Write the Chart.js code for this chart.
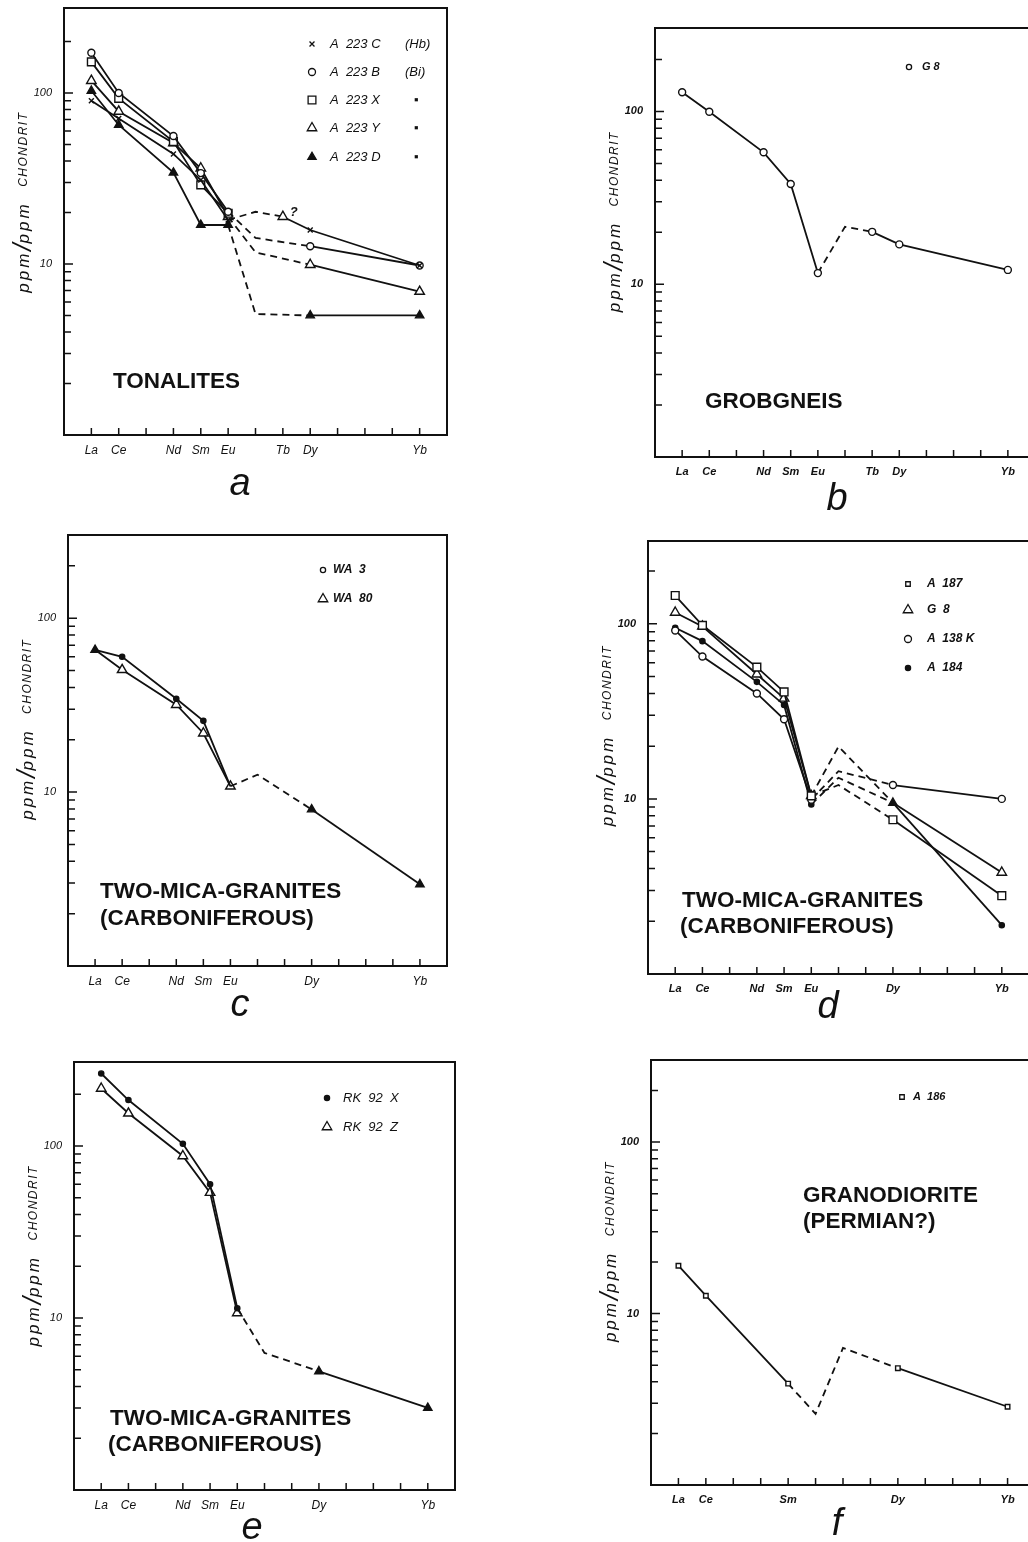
<!DOCTYPE html>
<html>
<head>
<meta charset="utf-8">
<script src="https://cdn.jsdelivr.net/npm/chart.js@4.4.1/dist/chart.umd.min.js"></script>
<style>
html, body { margin: 0; padding: 0; background: #fff; overflow: hidden; width: 1028px; height: 1542px; }
canvas { position: absolute; }
.tag { position: absolute; font: italic 38px "Liberation Sans", Arial, sans-serif; color: #111; transform: translate(-50%, -50%); }
</style>
</head>
<body>
<script>
const ink = '#111';
const fam = '"Liberation Sans", Arial, sans-serif';

// REE order along the x axis (Pm is left out, as in the original diagrams)
const reeOrder = ['La', 'Ce', 'Pr', 'Nd', 'Sm', 'Eu', 'Gd', 'Tb', 'Dy', 'Ho', 'Er', 'Tm', 'Yb'];
const yTicks = [2, 3, 4, 5, 6, 7, 8, 9, 10, 20, 30, 40, 50, 60, 70, 80, 90, 100, 200];
const yLabelled = [10, 100];

// a - tonalites
const aLabels = ['La', 'Ce', 'Nd', 'Sm', 'Eu', 'Tb', 'Dy', 'Yb'];
const aElements = ['La', 'Ce', 'Nd', 'Sm', 'Eu', 'Gd', 'Tb', 'Dy', 'Yb'];
const aA223C = [90, 71, 44, 31, 18.1, 20.2, 18.9, 15.8, 9.8];
const aA223B = [172, 100, 56, 34, 20.2, 14.2, null, 12.7, 9.8];
const aA223X = [152, 93, 52, 29, 19.8, null, null, null, null];
const aA223Y = [118, 78, 51, 36.3, 18.9, 11.7, null, 9.9, 6.9];
const aA223D = [103, 65, 34.2, 16.9, 16.9, 5.1, null, 5.0, 5.0];
const aNames = ['A  223 C', 'A  223 B', 'A  223 X', 'A  223 Y', 'A  223 D'];
const aNotes = ['(Hb)', '(Bi)', '▪', '▪', '▪'];

// b - grobgneis
const bLabels = ['La', 'Ce', 'Nd', 'Sm', 'Eu', 'Tb', 'Dy', 'Yb'];
const bElements = ['La', 'Ce', 'Nd', 'Sm', 'Eu', 'Gd', 'Tb', 'Dy', 'Yb'];
const bG8 = [129, 99.6, 58, 38, 11.6, 21.5, 20.1, 17, 12.1];
const bNames = ['G 8'];

// c - two-mica granites
const cLabels = ['La', 'Ce', 'Nd', 'Sm', 'Eu', 'Dy', 'Yb'];
const cElements = ['La', 'Ce', 'Nd', 'Sm', 'Eu', 'Gd', 'Dy', 'Yb'];
const cWA3 = [65.8, 60, 34.4, 25.7, 10.8, 12.6, 7.95, 2.95];
const cWA80 = [65.8, 50.5, 31.8, 21.8, 10.8, null, null, null];
const cNames = ['WA  3', 'WA  80'];

// d - two-mica granites
const dLabels = ['La', 'Ce', 'Nd', 'Sm', 'Eu', 'Dy', 'Yb'];
const dElements = ['La', 'Ce', 'Nd', 'Sm', 'Eu', 'Gd', 'Dy', 'Yb'];
const dA187 = [145, 98, 56.6, 40.8, 10.4, 12.0, 7.6, 2.8];
const dG8 = [116, 96.6, 51.5, 37.5, 10.4, 19.9, 9.5, 3.8];
const dA138K = [91.6, 65, 40, 28.5, 9.9, 14.4, 12.0, 10.0];
const dA184 = [95, 79.6, 46.6, 34.4, 9.3, 13.2, 9.5, 1.9];
const dNames = ['A  187', 'G  8', 'A  138 K', 'A  184'];

// e - two-mica granites
const eLabels = ['La', 'Ce', 'Nd', 'Sm', 'Eu', 'Dy', 'Yb'];
const eElements = ['La', 'Ce', 'Nd', 'Sm', 'Eu', 'Gd', 'Dy', 'Yb'];
const eRK92X = [264, 185, 103, 60, 11.4, 6.27, 4.9, 3.0];
const eRK92Z = [216, 155, 87.5, 53.6, 10.7, null, null, null];
const eNames = ['RK  92  X', 'RK  92  Z'];

// f - granodiorite
const fLabels = ['La', 'Ce', 'Sm', 'Dy', 'Yb'];
const fElements = ['La', 'Ce', 'Sm', 'Eu', 'Gd', 'Dy', 'Yb'];
const fA186 = [19.0, 12.7, 3.9, 2.6, 6.3, 4.8, 2.86];
const fNames = ['A  186'];

const marks = {
  cross: { style: 'crossRot', r: 3.5, fill: ink },
  circle: { style: 'circle', r: 3.5, fill: '#fff' },
  square: { style: 'rect', r: 5.5, fill: '#fff' },
  tri: { style: 'triangle', r: 5.5, fill: '#fff' },
  triFill: { style: 'triangle', r: 4.8, fill: ink },
  dot: { style: 'circle', r: 2.6, fill: ink },
  smallCircle: { style: 'circle', r: 2.6, fill: '#fff' },
  smallSquare: { style: 'rect', r: 3.2, fill: '#fff' },
  none: { style: 'circle', r: 0, fill: ink }
};

const panels = [
  {
    tag: 'a', tagPos: [240, 482], box: { l: 64, t: 8, r: 447, b: 435 }, yMax: 314,
    labels: aLabels, elements: aElements, est: ['Gd'], bold: false,
    series: [
      { values: aA223C, mark: 'cross', over: { Tb: 'tri' } },
      { values: aA223B, mark: 'circle' },
      { values: aA223X, mark: 'square' },
      { values: aA223Y, mark: 'tri' },
      { values: aA223D, mark: 'triFill' }
    ],
    legend: { names: aNames, notes: aNotes, dx: 248, textDx: 266, noteDx: 341, dy: [36, 64, 92, 120, 149], font: 'italic 13px' },
    title: { lines: ['TONALITES'], dx: [49], dy: [380] },
    notes: [{ series: 0, el: 'Tb', text: '?', dx: 7, dy: -4 }]
  },
  {
    tag: 'b', tagPos: [837, 497], box: { l: 655, t: 28, r: 1035, b: 457 }, yMax: 304,
    labels: bLabels, elements: bElements, est: ['Gd'], bold: true,
    series: [{ values: bG8, mark: 'circle' }],
    legend: { names: bNames, dx: 254, textDx: 267, dy: [39], font: 'italic bold 11px', markOver: ['smallCircle'] },
    title: { lines: ['GROBGNEIS'], dx: [50], dy: [380] }
  },
  {
    tag: 'c', tagPos: [240, 1003], box: { l: 68, t: 535, r: 447, b: 966 }, yMax: 301,
    labels: cLabels, elements: cElements, est: ['Gd'], bold: false,
    series: [
      { values: cWA3, mark: 'dot', over: { La: 'triFill', Eu: 'none', Dy: 'triFill', Yb: 'triFill' } },
      { values: cWA80, mark: 'tri', over: { La: 'none' } }
    ],
    legend: { names: cNames, dx: 255, textDx: 265, dy: [35, 64], font: 'italic bold 12px', markOver: ['smallCircle', 'tri'] },
    title: { lines: ['TWO-MICA-GRANITES', '(CARBONIFEROUS)'], dx: [32, 32], dy: [363, 390] }
  },
  {
    tag: 'd', tagPos: [828, 1005], box: { l: 648, t: 541, r: 1029, b: 974 }, yMax: 297,
    labels: dLabels, elements: dElements, est: ['Gd'], bold: true,
    series: [
      { values: dA187, mark: 'square' },
      { values: dG8, mark: 'tri', over: { Dy: 'triFill' } },
      { values: dA138K, mark: 'circle' },
      { values: dA184, mark: 'dot', over: { Dy: 'none' } }
    ],
    legend: { names: dNames, dx: 260, textDx: 279, dy: [43, 69, 98, 127], font: 'italic bold 12px', markOver: ['smallSquare', 'tri', 'circle', 'dot'] },
    title: { lines: ['TWO-MICA-GRANITES', '(CARBONIFEROUS)'], dx: [34, 32], dy: [366, 392] }
  },
  {
    tag: 'e', tagPos: [252, 1526], box: { l: 74, t: 1062, r: 455, b: 1490 }, yMax: 308,
    labels: eLabels, elements: eElements, est: ['Gd'], bold: false,
    series: [
      { values: eRK92X, mark: 'dot', over: { Dy: 'triFill', Yb: 'triFill' } },
      { values: eRK92Z, mark: 'tri' }
    ],
    legend: { names: eNames, dx: 253, textDx: 269, dy: [36, 65], font: 'italic 13px', markOver: ['dot', 'tri'] },
    title: { lines: ['TWO-MICA-GRANITES', '(CARBONIFEROUS)'], dx: [36, 34], dy: [363, 389] }
  },
  {
    tag: 'f', tagPos: [837, 1522], box: { l: 651, t: 1060, r: 1035, b: 1485 }, yMax: 301,
    labels: fLabels, elements: fElements, est: ['Eu', 'Gd'], bold: true,
    series: [{ values: fA186, mark: 'smallSquare' }],
    legend: { names: fNames, dx: 251, textDx: 262, dy: [37], font: 'italic bold 11px' },
    title: { lines: ['GRANODIORITE', '(PERMIAN?)'], dx: [152, 152], dy: [142, 168] }
  }
];

// draw a key marker the way Chart.js draws its point styles
function drawMarker(ctx, m, x, y) {
  if (!m.r) return;
  ctx.beginPath();
  if (m.style === 'circle') {
    ctx.arc(x, y, m.r, 0, Math.PI * 2);
  } else if (m.style === 'rect') {
    const s = m.r * Math.SQRT1_2;
    ctx.rect(x - s, y - s, 2 * s, 2 * s);
  } else if (m.style === 'triangle') {
    for (let k = 0; k < 3; k++) {
      const a = k * 2 * Math.PI / 3;
      const px = x + Math.sin(a) * m.r, py = y - Math.cos(a) * m.r;
      if (k === 0) ctx.moveTo(px, py); else ctx.lineTo(px, py);
    }
    ctx.closePath();
  } else if (m.style === 'crossRot') {
    const s = m.r * Math.SQRT1_2;
    ctx.moveTo(x - s, y - s); ctx.lineTo(x + s, y + s);
    ctx.moveTo(x - s, y + s); ctx.lineTo(x + s, y - s);
    ctx.stroke();
    return;
  }
  ctx.fillStyle = m.fill;
  ctx.fill();
  ctx.stroke();
}

function framePlugin(p) {
  return {
    id: 'frame',
    afterDraw(chart) {
      const { ctx, chartArea: ca, scales } = chart;
      const xs = scales.x, ys = scales.y;
      ctx.save();
      ctx.strokeStyle = ink;
      ctx.lineWidth = 2;
      ctx.strokeRect(ca.left, ca.top, ca.right - ca.left, ca.bottom - ca.top);

      // inward tick marks
      ctx.lineWidth = 1.5;
      ctx.beginPath();
      reeOrder.forEach((el, i) => {
        const px = xs.getPixelForValue(i);
        ctx.moveTo(px, ca.bottom);
        ctx.lineTo(px, ca.bottom - 7);
      });
      yTicks.forEach(v => {
        const py = ys.getPixelForValue(v);
        ctx.moveTo(ca.left, py);
        ctx.lineTo(ca.left + (yLabelled.includes(v) ? 9 : 7), py);
      });
      ctx.stroke();

      // y axis title, written bottom to top
      const parts = [
        ['ppm', 'italic 17px ' + fam, '3px'],
        ['/', 'italic 26px ' + fam, '0px'],
        ['ppm', 'italic 17px ' + fam, '3px'],
        ['   CHONDRIT', 'italic 12px ' + fam, '1.5px']
      ];
      let total = 0;
      const widths = parts.map(([t, f, ls]) => {
        ctx.font = f; ctx.letterSpacing = ls;
        const w = ctx.measureText(t).width;
        total += w;
        return w;
      });
      ctx.save();
      ctx.translate(ca.left - 40, ys.getPixelForValue(23));
      ctx.rotate(-Math.PI / 2);
      ctx.fillStyle = ink;
      ctx.textBaseline = 'middle';
      ctx.textAlign = 'left';
      let cx = -total / 2;
      parts.forEach(([t, f, ls], i) => {
        ctx.font = f; ctx.letterSpacing = ls;
        ctx.fillText(t, cx, 0);
        cx += widths[i];
      });
      ctx.restore();
      ctx.letterSpacing = '0px';

      // key
      const lg = p.legend;
      ctx.lineWidth = 1.3;
      ctx.textBaseline = 'middle';
      ctx.textAlign = 'left';
      lg.names.forEach((name, i) => {
        const y = ca.top + lg.dy[i];
        const m = marks[(lg.markOver && lg.markOver[i]) || p.series[i].mark];
        drawMarker(ctx, m, ca.left + lg.dx, y);
        ctx.fillStyle = ink;
        ctx.font = lg.font + ' ' + fam;
        ctx.fillText(name, ca.left + lg.textDx, y);
        if (lg.notes) {
          const n = lg.notes[i];
          ctx.fillText(n, ca.left + lg.noteDx + (n === '▪' ? 9 : 0), y);
        }
      });

      // rock name
      ctx.font = 'bold 22.5px ' + fam;
      ctx.textBaseline = 'alphabetic';
      p.title.lines.forEach((line, i) => {
        ctx.fillText(line, ca.left + p.title.dx[i], ca.top + p.title.dy[i]);
      });

      // small notes next to points
      (p.notes || []).forEach(n => {
        const meta = chart.getDatasetMeta(n.series);
        const idx = chart.data.datasets[n.series].data.findIndex(d => d.el === n.el);
        const pt = meta.data[idx];
        ctx.font = 'italic bold 13px ' + fam;
        ctx.textBaseline = 'middle';
        ctx.fillText(n.text, pt.x + n.dx, pt.y + n.dy);
      });
      ctx.restore();
    }
  };
}

function buildDataset(p, s) {
  const data = [];
  p.elements.forEach((el, i) => {
    if (s.values[i] === null) return;
    data.push({ x: reeOrder.indexOf(el), y: s.values[i], el: el, est: p.est.includes(el) });
  });
  const pm = data.map(d => {
    if (s.over && s.over[d.el]) return marks[s.over[d.el]];
    if (d.est) return marks.none;
    return marks[s.mark];
  });
  return {
    data: data,
    borderColor: ink,
    borderWidth: 1.8,
    pointStyle: pm.map(m => m.style),
    pointRadius: pm.map(m => m.r),
    pointBackgroundColor: pm.map(m => m.fill),
    pointBorderColor: ink,
    pointBorderWidth: 1.4,
    tension: 0,
    segment: {
      borderDash: c => (data[c.p0DataIndex].est || data[c.p1DataIndex].est) ? [7, 5] : undefined
    }
  };
}

function makePanel(p) {
  const padL = 60, padT = 10, padR = 10, padB = 40;
  const w = p.box.r - p.box.l + padL + padR;
  const h = p.box.b - p.box.t + padT + padB;
  const cv = document.createElement('canvas');
  cv.width = w; cv.height = h;
  cv.style.left = (p.box.l - padL) + 'px';
  cv.style.top = (p.box.t - padT) + 'px';
  cv.style.width = w + 'px';
  cv.style.height = h + 'px';
  document.body.appendChild(cv);

  const tickFont = { family: fam, size: p.bold ? 11 : 12, style: 'italic', weight: p.bold ? 'bold' : 'normal' };
  new Chart(cv, {
    type: 'line',
    data: { datasets: p.series.map(s => buildDataset(p, s)) },
    options: {
      responsive: false,
      animation: false,
      events: [],
      layout: { padding: { left: 0, top: padT, right: padR, bottom: 0 } },
      plugins: { legend: { display: false }, tooltip: { enabled: false } },
      scales: {
        x: {
          type: 'linear', min: -1, max: 13,
          afterFit: s => { s.height = padB; s.paddingLeft = 0; s.paddingRight = 0; },
          grid: { display: false, drawTicks: false },
          border: { display: false },
          ticks: {
            stepSize: 1, autoSkip: false, maxRotation: 0, padding: 8, color: ink, font: tickFont,
            callback: v => p.labels.includes(reeOrder[v]) ? reeOrder[v] : ''
          }
        },
        y: {
          type: 'logarithmic', min: 1, max: p.yMax,
          afterFit: s => { s.width = padL; s.paddingTop = 0; s.paddingBottom = 0; },
          afterBuildTicks: s => { s.ticks = yTicks.map(v => ({ value: v })); },
          grid: { display: false, drawTicks: false },
          border: { display: false },
          ticks: {
            autoSkip: false, padding: 12, color: ink,
            font: { family: fam, size: 11, style: 'italic', weight: p.bold ? 'bold' : 'normal' },
            callback: v => yLabelled.includes(v) ? String(v) : ''
          }
        }
      }
    },
    plugins: [framePlugin(p)]
  });

  const tag = document.createElement('div');
  tag.className = 'tag';
  tag.textContent = p.tag;
  tag.style.left = p.tagPos[0] + 'px';
  tag.style.top = p.tagPos[1] + 'px';
  document.body.appendChild(tag);
}

panels.forEach(makePanel);
</script>
</body>
</html>
